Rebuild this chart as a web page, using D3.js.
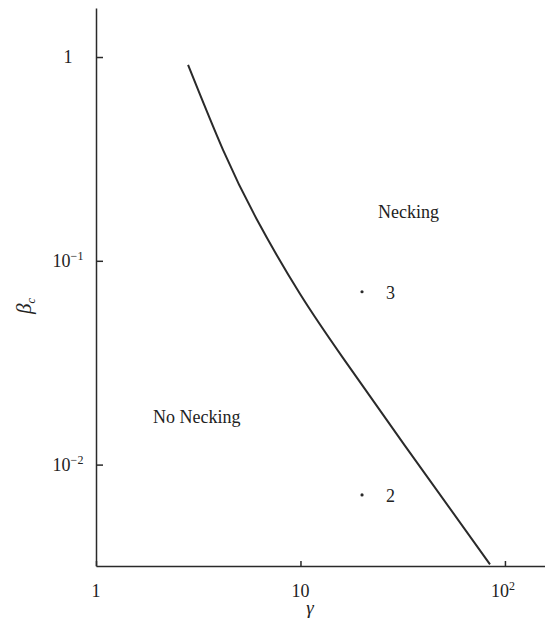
<!DOCTYPE html>
<html>
<head>
<meta charset="utf-8">
<script src="https://cdn.jsdelivr.net/npm/d3@7"></script>
<style>
  html, body { margin: 0; padding: 0; background: #fff; }
  svg { display: block; }
  text { font-family: "Liberation Serif", "DejaVu Serif", serif; fill: #222; }
</style>
</head>
<body>
<svg id="chart" width="545" height="625"></svg>
<script>
// Critical boundary between necking and no necking: gamma vs beta_c
const curveGamma = [2.82, 4.18, 6.13, 9.94, 16.1, 32.4, 84.5];
const curveBeta  = [0.914, 0.350, 0.159, 0.0689, 0.0335, 0.0124, 0.00324];

// Marked cases
const pointGamma = [20, 20];
const pointBeta  = [0.0705, 0.0071];
const pointLabel = ["3", "2"];

// Axis ticks
const xTicks = [1, 10, 100];
const xTickBase = ["1", "10", "10"];
const xTickExp  = ["", "", "2"];
const yTicks = [1, 0.1, 0.01];
const yTickBase = ["1", "10", "10"];
const yTickExp  = ["", "\u22121", "\u22122"];

const xDomain = [1, 157];
const yDomain = [0.00318, 1.74];

const svg = d3.select("#chart");
const plotLeft = 96, plotRight = 545, plotTop = 8, plotBottom = 566;

const x = d3.scaleLog().domain(xDomain).range([plotLeft, plotRight]);
const y = d3.scaleLog().domain(yDomain).range([plotBottom, plotTop]);

const ink = "#2a2a2a";

// x axis
const xAxis = svg.append("g")
  .attr("transform", `translate(0,${plotBottom})`)
  .call(d3.axisBottom(x).tickValues(xTicks).tickSizeInner(-5).tickSizeOuter(0).tickFormat(""));
xAxis.select(".domain").attr("stroke", ink).attr("stroke-width", 1.5);
xAxis.selectAll(".tick line").attr("stroke", ink).attr("stroke-width", 1.5);

// y axis
const yAxis = svg.append("g")
  .attr("transform", `translate(${plotLeft},0)`)
  .call(d3.axisLeft(y).tickValues(yTicks).tickSizeInner(-7).tickSizeOuter(0).tickFormat(""));
yAxis.select(".domain").attr("stroke", ink).attr("stroke-width", 1.5);
yAxis.selectAll(".tick line").attr("stroke", ink).attr("stroke-width", 1.5);

// tick labels with superscripts
xTicks.forEach((v, i) => {
  const t = svg.append("text")
    .attr("x", x(v) - (xTickExp[i] ? 2 : 0))
    .attr("y", plotBottom + 31)
    .attr("text-anchor", "middle")
    .attr("font-size", 18);
  t.append("tspan").text(xTickBase[i]);
  if (xTickExp[i]) {
    t.append("tspan").attr("dy", -7).attr("font-size", 12).text(xTickExp[i]);
  }
});

yTicks.forEach((v, i) => {
  const t = svg.append("text")
    .attr("x", 68)
    .attr("y", y(v) + 6)
    .attr("text-anchor", "middle")
    .attr("font-size", 18);
  t.append("tspan").text(yTickBase[i]);
  if (yTickExp[i]) {
    t.append("tspan").attr("dy", -7).attr("font-size", 12).text(yTickExp[i]);
  }
});

// axis titles
svg.append("text")
  .attr("x", 310).attr("y", 614)
  .attr("text-anchor", "middle")
  .attr("font-size", 19)
  .attr("font-style", "italic")
  .text("\u03b3");

const yt = svg.append("text")
  .attr("transform", "translate(31,306) rotate(-90)")
  .attr("text-anchor", "middle")
  .attr("font-size", 21)
  .attr("font-style", "italic");
yt.append("tspan").text("\u03b2");
yt.append("tspan").attr("dy", 4).attr("font-size", 12).text("c");

// boundary curve
const line = d3.line()
  .x(d => x(d[0]))
  .y(d => y(d[1]))
  .curve(d3.curveNatural);

svg.append("path")
  .datum(curveGamma.map((g, i) => [g, curveBeta[i]]))
  .attr("d", line)
  .attr("fill", "none")
  .attr("stroke", ink)
  .attr("stroke-width", 2);

// marked points and their labels
svg.selectAll("circle.pt")
  .data(pointGamma.map((g, i) => [g, pointBeta[i]]))
  .join("circle")
  .attr("class", "pt")
  .attr("cx", d => x(d[0]))
  .attr("cy", d => y(d[1]))
  .attr("r", 1.6)
  .attr("fill", ink);

svg.selectAll("text.ptlab")
  .data(pointGamma.map((g, i) => [g, pointBeta[i], pointLabel[i]]))
  .join("text")
  .attr("class", "ptlab")
  .attr("x", d => x(d[0]) + 24)
  .attr("y", d => y(d[1]) + 7)
  .attr("font-size", 18)
  .text(d => d[2]);

// region labels
svg.append("text").attr("x", 378).attr("y", 218).attr("font-size", 18).text("Necking");
svg.append("text").attr("x", 153).attr("y", 423).attr("font-size", 18).text("No Necking");
</script>
</body>
</html>
